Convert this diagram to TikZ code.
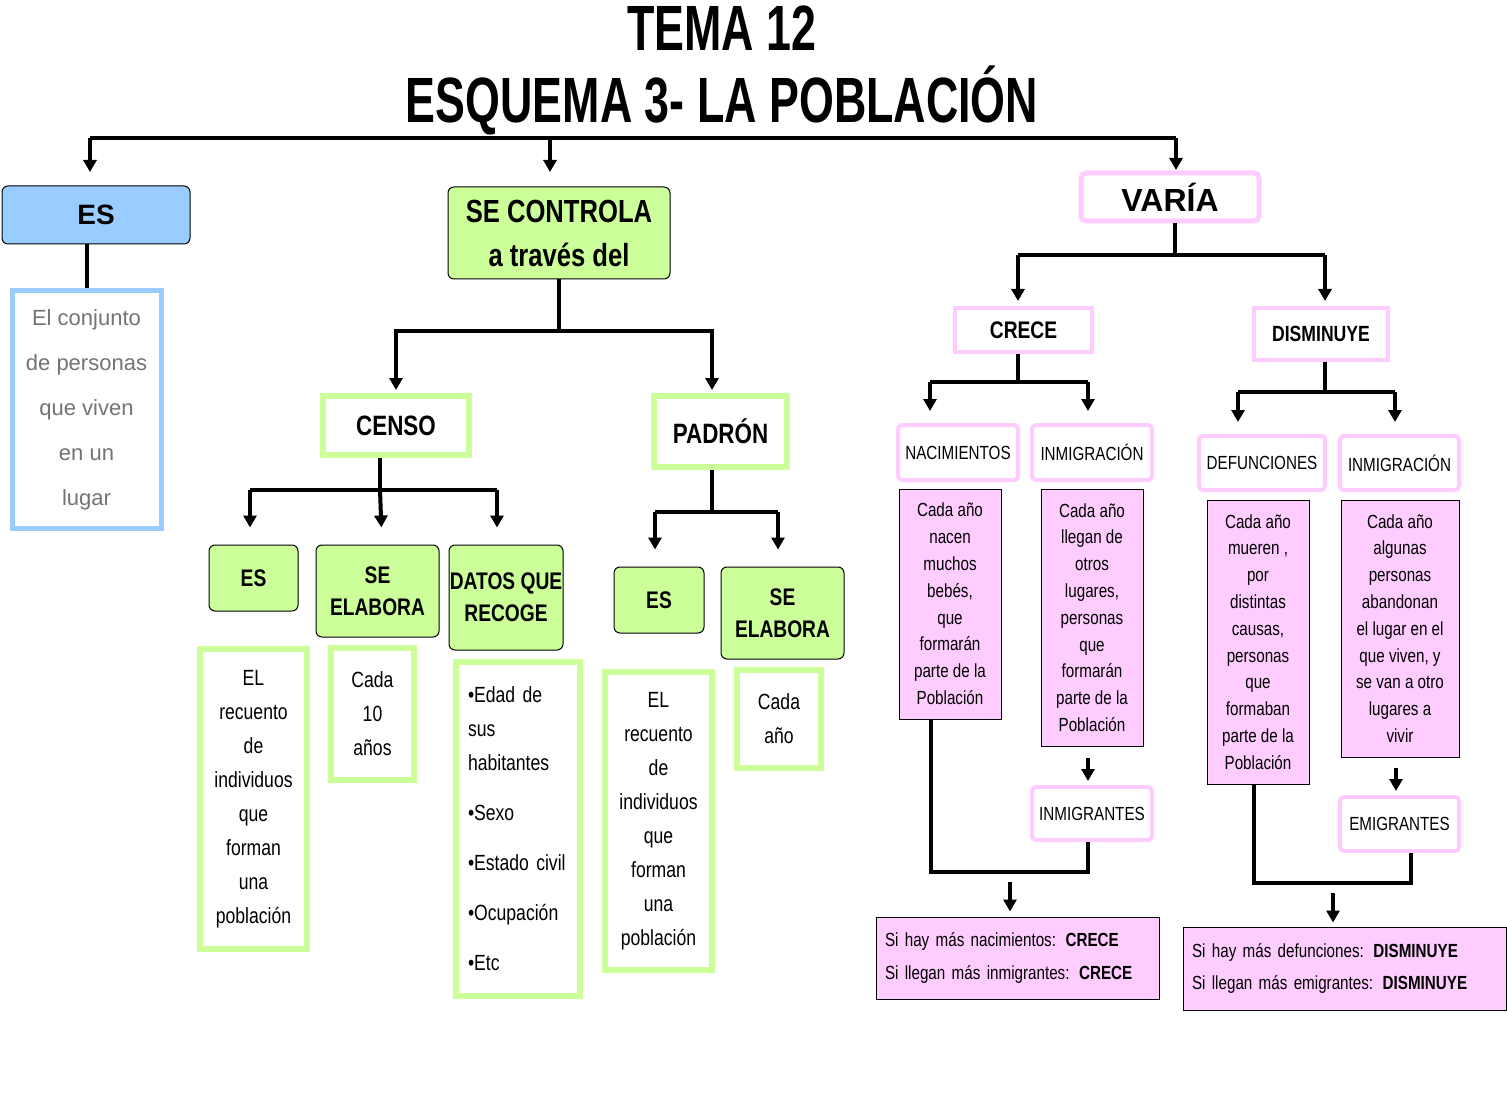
\documentclass[tikz,border=0pt]{standalone}
\usepackage{fontspec}
\setmainfont{Liberation Sans}
\newfontfamily\narrow[FakeStretch=0.8]{Liberation Sans}
\newfontfamily\titlefont[FakeStretch=0.7]{Liberation Sans}
\usetikzlibrary{arrows.meta}
\definecolor{azul}{RGB}{153,204,255}
\definecolor{verde}{RGB}{204,255,153}
\definecolor{rosa}{RGB}{255,204,255}
\tikzset{
  box/.style={draw, inner sep=0pt, align=center, minimum width=#1},
  bar/.style={line width=4pt},
  arr/.style={line width=4pt, -{Triangle[length=12pt,width=13pt]}, shorten >=0pt},
  tit/.style={box=10pt, fill=verde, rounded corners=6pt, line width=1pt, font=\narrow\bfseries\fontsize{24}{32}\selectfont},
  gbox/.style={box=10pt, draw=verde, line width=6pt, font=\narrow\bfseries\fontsize{28}{34}\selectfont},
  gtxt/.style={box=10pt, draw=verde, line width=6pt, font=\narrow\fontsize{22}{34}\selectfont},
  pbox/.style={box=10pt, draw=rosa, line width=4pt, rounded corners=4pt, font=\narrow\bfseries\fontsize{24}{30}\selectfont},
  pbsm/.style={pbox, font=\narrow\fontsize{19}{24}\selectfont},
  ptxt/.style={box=10pt, fill=rosa, line width=1pt, font=\narrow\fontsize{19}{26.8}\selectfont},
}
\begin{document}
\begin{tikzpicture}[x=1pt,y=-1pt]
  \useasboundingbox (0,0) rectangle (1507,1099);
  % title
  \node (t1) at (722,28) {\titlefont\bfseries\fontsize{64}{64}\selectfont TEMA 12};
  \node (t2) at (722,100) {\titlefont\bfseries\fontsize{64}{64}\selectfont ESQUEMA 3- LA POBLACIÓN};
  % first level
  \node [box=188pt, minimum height=58pt, fill=azul, rounded corners=6pt, line width=1pt,
         font=\bfseries\fontsize{28}{32}\selectfont] (es) at (96,215) {ES};
  \node [box=149pt, minimum height=237pt, draw=azul, line width=5pt, text=black!55,
         font=\fontsize{22}{45}\selectfont] (esdef) at (86.5,409.5) {El conjunto\\de personas\\que viven\\en un\\lugar};
  \node [tit, minimum width=222pt, minimum height=92pt, font=\narrow\bfseries\fontsize{32}{44}\selectfont] (ctrl) at (559,233) {SE CONTROLA\\a través del};
  \node [box=178pt, minimum height=48pt, draw=rosa, line width=5pt, rounded corners=5pt,
         font=\bfseries\fontsize{32}{36}\selectfont] (varia) at (1170,197) {VARÍA};
  \coordinate (tl) at (90,138);
  \coordinate (tm) at (550,138);
  \coordinate (tr) at (1176,138);
  \draw [bar] (tl) -- (tr);
  \draw [arr] (tl) -- ++(0,34);
  \draw [arr] (tm) -- ++(0,34);
  \draw [arr] (tr) -- ++(0,32);
  \draw [bar] (es.south -| esdef.north) -- (esdef.north);
  % censo and padron
  \node [gbox, minimum width=146pt, minimum height=59pt] (censo) at (396,425.5) {CENSO};
  \node [gbox, minimum width=133pt, minimum height=71pt] (padron) at (720.5,431.5) {PADRÓN};
  \draw [bar] (ctrl.south) -- ++(0,51) coordinate (cj);
  \draw [arr, shorten >=3pt] (cj) -| (censo.north);
  \draw [arr, shorten >=3pt] (cj) -| (padron.north -| 712,0);
  % censo children
  \node [tit, minimum width=89pt, minimum height=66pt] (ces) at (253.5,578) {ES};
  \node [tit, minimum width=123pt, minimum height=92pt] (celab) at (377.5,591) {SE\\ELABORA};
  \node [tit, minimum width=114pt, minimum height=105pt] (cdatos) at (506,597.5) {DATOS QUE\\RECOGE};
  \node [gtxt, minimum width=107pt, minimum height=300pt] (cestxt) at (253.5,799) {EL\\recuento\\de\\individuos\\que\\forman\\una\\población};
  \node [gtxt, minimum width=83pt, minimum height=132pt] (celabtxt) at (372.5,714) {Cada\\10\\años};
  \node [gtxt, minimum width=124pt, minimum height=334pt, align=left, text width=100pt] (cdatostxt) at (518,829)
    {•Edad de\\sus\\habitantes\\[16pt]•Sexo\\[16pt]•Estado civil\\[16pt]•Ocupación\\[16pt]•Etc};
  \draw [bar] (censo.south -| 380,0) -- (380,490) coordinate (cc);
  \draw [bar] (250,490) -- (497,490);
  \draw [arr, shorten >=17pt] (250,490) -- (ces.north -| 250,0);
  \draw [arr, shorten >=17pt] (cc) -- (celab.north -| 382,0);
  \draw [arr, shorten >=17pt] (497,490) -- (cdatos.north -| 497,0);
  % padron children
  \node [tit, minimum width=90pt, minimum height=66pt] (pes) at (659,600) {ES};
  \node [tit, minimum width=123pt, minimum height=92pt] (pelab) at (782.5,613) {SE\\ELABORA};
  \node [gtxt, minimum width=107pt, minimum height=298pt] (pestxt) at (658.5,821) {EL\\recuento\\de\\individuos\\que\\forman\\una\\población};
  \node [gtxt, minimum width=84pt, minimum height=98pt] (pelabtxt) at (779,719) {Cada\\año};
  \draw [bar] (padron.south -| 712,0) -- (712,512) coordinate (pc);
  \draw [bar] (655,512) -- (778,512);
  \draw [arr, shorten >=17pt] (655,512) -- (pes.north -| 655,0);
  \draw [arr, shorten >=17pt] (778,512) -- (pelab.north -| 778,0);
  % varia children
  \node [pbox, minimum width=137pt, minimum height=44pt, rounded corners=0pt] (crece) at (1023.5,330) {CRECE};
  \node [pbox, minimum width=134pt, minimum height=52pt, rounded corners=0pt, font=\narrow\bfseries\fontsize{22}{28}\selectfont] (dism) at (1321,334) {DISMINUYE};
  \draw [bar] (varia.south -| 1175,0) -- (1175,255) coordinate (vc);
  \draw [bar] (1018,255) -- (1325,255);
  \draw [arr, shorten >=5pt] (1018,255) -- (crece.north -| 1018,0);
  \draw [arr, shorten >=5pt] (1325,255) -- (dism.north -| 1325,0);
  % crece branch
  \node [pbsm, minimum width=120pt, minimum height=55pt] (nac) at (958,452.5) {NACIMIENTOS};
  \node [pbsm, minimum width=120pt, minimum height=55pt] (inm1) at (1092,452.5) {INMIGRACIÓN};
  \node [ptxt, minimum width=102pt, minimum height=230pt] (nactxt) at (950,604) {Cada año\\nacen\\muchos\\bebés,\\que\\formarán\\parte de la\\Población};
  \node [ptxt, minimum width=102pt, minimum height=257pt] (inm1txt) at (1092,617.5) {Cada año\\llegan de\\otros\\lugares,\\personas\\que\\formarán\\parte de la\\Población};
  \node [pbsm, minimum width=120pt, minimum height=53pt] (inmigr) at (1092,813.5) {INMIGRANTES};
  \node [ptxt, minimum width=283pt, minimum height=82pt, align=left, text width=265pt] (res1) at (1017.5,958)
    {Si hay más nacimientos: \textbf{CRECE}\\[6pt]Si llegan más inmigrantes: \textbf{CRECE}};
  \draw [bar] (crece.south -| 1018,0) -- (1018,382);
  \draw [bar] (930,382) -- (1088,382);
  \draw [arr, shorten >=12pt] (930,382) -- (nac.north -| 930,0);
  \draw [arr, shorten >=12pt] (1088,382) -- (inm1.north -| 1088,0);
  \draw [arr, shorten >=4pt] (inm1txt.south -| 1088,0) ++(0,11) -- (inmigr.north -| 1088,0);
  \draw [bar] (nactxt.south -| 931,0) -- (931,872) -- (1088,872) -- (inmigr.south -| 1088,0);
  \draw [arr, shorten >=5pt] (1010,882) -- (res1.north -| 1010,0);
  % disminuye branch
  \node [pbsm, minimum width=126pt, minimum height=54pt] (def) at (1262,463) {DEFUNCIONES};
  \node [pbsm, minimum width=119pt, minimum height=54pt] (inm2) at (1399.5,463) {INMIGRACIÓN};
  \node [ptxt, minimum width=102pt, minimum height=284pt] (deftxt) at (1258,642) {Cada año\\mueren ,\\por\\distintas\\causas,\\personas\\que\\formaban\\parte de la\\Población};
  \node [ptxt, minimum width=118pt, minimum height=257pt] (inm2txt) at (1400,628.5) {Cada año\\algunas\\personas\\abandonan\\el lugar en el\\que viven, y\\se van a otro\\lugares a\\vivir};
  \node [pbsm, minimum width=119pt, minimum height=54pt] (emig) at (1399.5,824) {EMIGRANTES};
  \node [ptxt, minimum width=323pt, minimum height=83pt, align=left, text width=305pt] (res2) at (1344.5,968.5)
    {Si hay más defunciones: \textbf{DISMINUYE}\\[6pt]Si llegan más emigrantes: \textbf{DISMINUYE}};
  \draw [bar] (dism.south -| 1325,0) -- (1325,392);
  \draw [bar] (1238,392) -- (1395,392);
  \draw [arr, shorten >=12pt] (1238,392) -- (def.north -| 1238,0);
  \draw [arr, shorten >=12pt] (1395,392) -- (inm2.north -| 1395,0);
  \draw [arr, shorten >=4pt] (inm2txt.south -| 1396,0) ++(0,10) -- (emig.north -| 1396,0);
  \draw [bar] (deftxt.south -| 1254,0) -- (1254,883) -- (1411,883) -- (emig.south -| 1411,0);
  \draw [arr, shorten >=4pt] (1333,893) -- (res2.north -| 1333,0);
\end{tikzpicture}
\end{document}
